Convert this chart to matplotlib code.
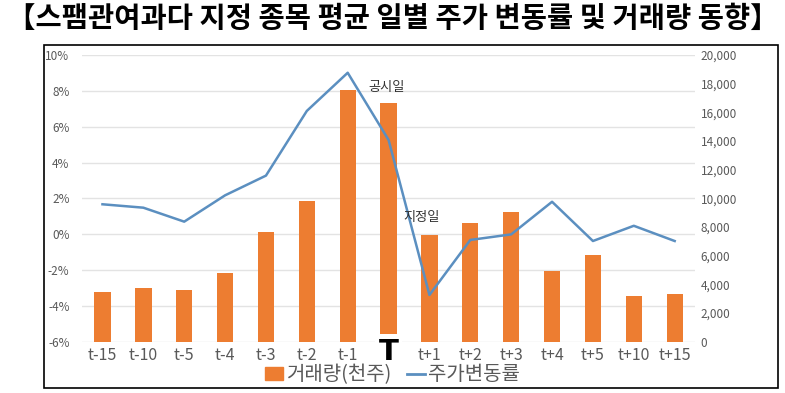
import numpy as np
import matplotlib.pyplot as plt
from matplotlib.patches import Rectangle

plt.rcParams['font.family'] = ['Noto Sans CJK KR', 'DejaVu Sans']

labels = ['t-15', 't-10', 't-5', 't-4', 't-3', 't-2', 't-1', 'T',
          't+1', 't+2', 't+3', 't+4', 't+5', 't+10', 't+15']
volume = [3450, 3720, 3580, 4760, 7620, 9790, 17550, 16640,
          7410, 8250, 9020, 4900, 6080, 3200, 3340]
price_chg = [1.67, 1.48, 0.70, 2.17, 3.27, 6.88, 9.01, 5.26,
             -3.39, -0.32, -0.01, 1.81, -0.38, 0.47, -0.38]

BAR_C = '#ED7D31'
LINE_C = '#5B8FC0'
TICK_C = '#595959'

fig = plt.figure(figsize=(7.85, 3.93), dpi=100)
fig.text(0.5, 0.953, '【스팸관여과다 지정 종목 평균 일별 주가 변동률 및 거래량 동향】',
         ha='center', va='center', fontsize=20.5, fontweight='bold')
fig.patches.append(Rectangle((44 / 785, 1 - 388 / 393), (778 - 44) / 785, (388 - 45) / 393,
                             transform=fig.transFigure, fill=False, ec='black', lw=1.2))

ax = fig.add_axes([0.1045, 0.1305, 0.781, 0.7295])
ax2 = ax.twinx()
x = np.arange(len(labels))

# bars on the right axis, line on the left
ax2.bar(x, volume, width=0.4, color=BAR_C, zorder=2)
ax2.set_ylim(0, 20000)
ax2.set_yticks(np.arange(0, 20001, 2000))
ax2.set_yticklabels(['{:,}'.format(v) for v in range(0, 20001, 2000)])

ax.set_zorder(ax2.get_zorder() + 1)
ax.patch.set_visible(False)
ax.plot(x, price_chg, color=LINE_C, lw=1.8, zorder=3)
ax.set_ylim(-6, 10)
ax.set_yticks(np.arange(-6, 11, 2))
ax.set_yticklabels(['{}%'.format(v) for v in range(-6, 11, 2)])
ax.set_xlim(-0.5, 14.5)
ax.set_xticks(x)
ax.set_xticklabels([l if l != 'T' else '' for l in labels])

for yv in np.arange(-6, 11, 2):
    ax2.axhline((yv + 6) * 1250, color='#e3e3e3', lw=1, zorder=1)

for a in (ax, ax2):
    for s in a.spines.values():
        s.set_visible(False)
    a.tick_params(length=0, colors=TICK_C)
ax.tick_params(axis='y', labelsize=8.5, pad=9)
ax2.tick_params(axis='y', labelsize=8.5, pad=4)
ax.tick_params(axis='x', labelsize=11.5, pad=4)

ax.text(7, -7.02, 'T', ha='center', va='baseline', fontsize=21, fontweight='bold',
        family=['DejaVu Sans'], zorder=5,
        bbox=dict(boxstyle='square,pad=0.12', fc='white', ec='none'))
ax.text(6.94, 8.21, '공시일', ha='center', va='center', fontsize=9.5, color='#333333')
ax.text(7.81, 0.93, '지정일', ha='center', va='center', fontsize=9.5, color='#333333')

h1 = Rectangle((0, 0), 1, 1, color=BAR_C)
h2, = ax.plot([], [], color=LINE_C, lw=2)
fig.legend([h1, h2], ['거래량(천주)', '주가변동률'], loc='center', ncol=2,
           bbox_to_anchor=(0.5, 1 - 375 / 393), frameon=False, fontsize=14.4,
           handlelength=0.9, handleheight=0.6, handletextpad=0.15, columnspacing=0.8,
           labelcolor=TICK_C, borderpad=0)

fig.savefig('out.png', dpi=100)
